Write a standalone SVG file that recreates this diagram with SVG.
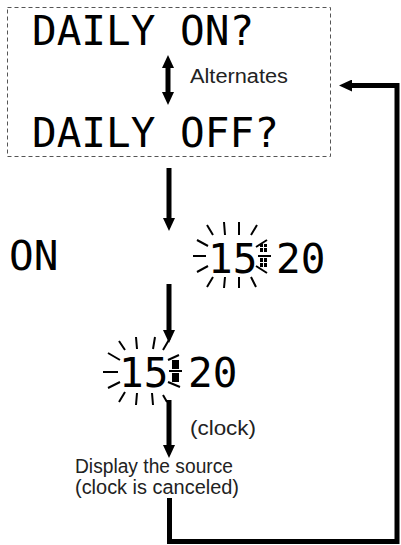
<svg xmlns="http://www.w3.org/2000/svg" width="401" height="545" viewBox="0 0 401 545">
<style>
.lcd{font-family:"DejaVu Sans Mono","Liberation Mono",monospace;font-size:41px;fill:#000}
.lbl{font-family:"Liberation Sans",Arial,sans-serif;font-size:20px;fill:#222}
.con{fill:none;stroke:#000;stroke-width:5}
.ray{stroke:#000;stroke-width:2;fill:none}
</style>
<defs>
<marker id="ah" markerUnits="userSpaceOnUse" markerWidth="14" markerHeight="12" refX="1" refY="6" orient="auto-start-reverse">
<path d="M0,0 L13,6 L0,12 Z" fill="#000"/>
</marker>
</defs>
<rect x="0" y="0" width="401" height="545" fill="#fff"/>

<g id="connectors">
<line class="con" stroke-width="4" x1="168" y1="67" x2="168" y2="93" marker-start="url(#ah)" marker-end="url(#ah)"/>
<line class="con" x1="169" y1="168" x2="169" y2="219" marker-end="url(#ah)"/>
<line class="con" x1="169" y1="284" x2="169" y2="331" marker-end="url(#ah)"/>
<line class="con" x1="169" y1="400" x2="169" y2="446" marker-end="url(#ah)"/>
<path class="con" d="M169.5,498 V541.5 H397 V85.5 H351" marker-end="url(#ah)"/>
</g>

<g id="daily-box">
<rect x="7.5" y="7.5" width="323" height="149" fill="none" stroke="#555" stroke-width="1" stroke-dasharray="4,3"/>
<text class="lcd" x="32" y="45">DAILY ON?</text>
<text class="lcd" x="32" y="147">DAILY OFF?</text>
<text class="lbl" x="190" y="83" textLength="98" lengthAdjust="spacingAndGlyphs">Alternates</text>
</g>

<g id="on">
<text class="lcd" x="9" y="270">ON</text>
</g>

<g id="clock-blink-1">
<text class="lcd" x="208" y="273">15</text>
<text class="lcd" x="276" y="273">20</text>
<g fill="#000">
<rect x="260" y="244" width="3" height="3"/><rect x="264" y="244" width="3" height="3"/>
<rect x="260" y="248" width="3" height="4"/><rect x="264" y="248" width="3" height="4"/>
<rect x="260" y="258" width="3" height="4"/><rect x="264" y="258" width="3" height="4"/>
<rect x="260" y="263" width="3" height="4"/><rect x="264" y="263" width="3" height="4"/>
</g>
<path class="ray" d="M207,225 L213,235 M224,222 L225,235 M239,222 L239,235 M257,225 L251,235 M197,240 L208,246 M193,256 L206,256 M197,272 L208,266 M256,247 L267,240 M258,256 L271,256 M256,266 L267,273 M207,287 L213,277 M224,288 L225,277 M239,288 L239,277 M256,287 L251,277"/>
</g>

<g id="clock-blink-2">
<text class="lcd" x="119" y="387">15</text>
<text class="lcd" x="188" y="387">20</text>
<g fill="#000">
<rect x="172" y="360" width="7" height="9"/>
<rect x="172" y="373" width="7" height="9"/>
</g>
<path class="ray" d="M119,341 L125,350 M136,337 L137,349 M155,337 L153,349 M170,338 L163,350 M108,353 L120,360 M103,372 L118,372 M108,388 L120,382 M168,360 L179,355 M169,371 L182,371 M168,382 L180,387 M119,402 L125,392 M136,405 L137,393 M153,405 L152,393 M167,402 L163,395"/>
<text class="lbl" x="190" y="435" font-size="21" textLength="66" lengthAdjust="spacingAndGlyphs">(clock)</text>
</g>

<g id="display-source">
<text class="lbl" x="75" y="473" font-size="18.5" textLength="158" lengthAdjust="spacingAndGlyphs">Display the source</text>
<text class="lbl" x="75" y="494" font-size="18.5" textLength="164" lengthAdjust="spacingAndGlyphs">(clock is canceled)</text>
</g>
</svg>
